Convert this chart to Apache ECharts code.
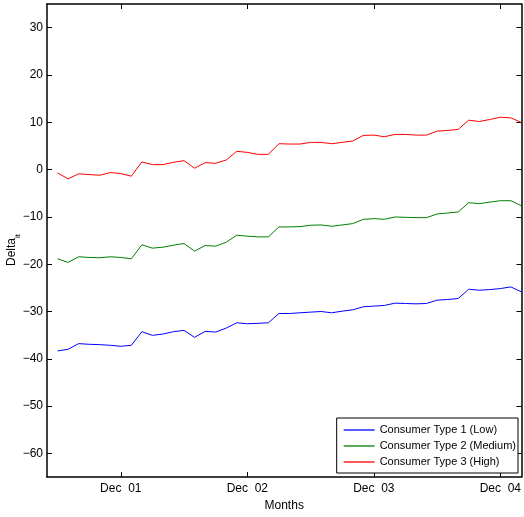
<!DOCTYPE html>
<html>
<head>
<meta charset="utf-8">
<script src="https://cdn.jsdelivr.net/npm/echarts@6/dist/echarts.min.js"></script>
<style>html,body{margin:0;padding:0;background:#fff;}#c{width:524px;height:517px;}</style>
</head>
<body>
<div id="c"></div>
<script>
const months = ['Jun 01','Jul 01','Aug 01','Sep 01','Oct 01','Nov 01','Dec 01',
  'Jan 02','Feb 02','Mar 02','Apr 02','May 02','Jun 02','Jul 02','Aug 02','Sep 02','Oct 02','Nov 02','Dec 02',
  'Jan 03','Feb 03','Mar 03','Apr 03','May 03','Jun 03','Jul 03','Aug 03','Sep 03','Oct 03','Nov 03','Dec 03',
  'Jan 04','Feb 04','Mar 04','Apr 04','May 04','Jun 04','Jul 04','Aug 04','Sep 04','Oct 04','Nov 04','Dec 04',
  'Jan 05','Feb 05'];
const seriesNames = ['Consumer Type 1 (Low)','Consumer Type 2 (Medium)','Consumer Type 3 (High)'];
const low = [-38.33,-37.98,-36.79,-36.93,-37.0,-37.14,-37.35,-37.14,-34.27,-35.04,-34.75,-34.27,-33.98,-35.46,-34.2,-34.34,-33.5,-32.38,-32.58,-32.5,-32.38,
  -30.42,-30.42,-30.27,-30.13,-30.0,-30.27,-29.93,-29.64,-29.0,-28.86,-28.72,-28.23,-28.3,-28.38,-28.3,-27.6,-27.46,-27.26,-25.29,-25.5,-25.36,-25.15,-24.8,-25.85];
const medium = [-18.85,-19.62,-18.43,-18.57,-18.64,-18.43,-18.57,-18.85,-15.91,-16.61,-16.4,-15.98,-15.63,-17.24,-16.05,-16.19,-15.35,-13.87,-14.08,-14.22,-14.22,
  -12.12,-12.12,-12.05,-11.77,-11.7,-11.98,-11.7,-11.42,-10.51,-10.37,-10.51,-10.02,-10.09,-10.16,-10.16,-9.39,-9.18,-8.97,-7.0,-7.21,-6.87,-6.58,-6.58,-7.64];
const high = [-0.7,-1.96,-0.9,-1.05,-1.2,-0.63,-0.84,-1.4,1.61,1.05,1.05,1.54,1.89,0.28,1.47,1.33,2.03,3.86,3.64,3.22,3.22,
  5.47,5.4,5.4,5.75,5.75,5.47,5.75,6.03,7.22,7.29,6.94,7.43,7.43,7.29,7.29,8.13,8.27,8.48,10.44,10.16,10.58,11.07,10.93,9.95];
const yTicks = [-60,-50,-40,-30,-20,-10,0,10,20,30];
const xTickMonths = ['Dec 01','Dec 02','Dec 03','Dec 04'];
const colors = ['#0000ff','#008000','#ff0000'];

const FONT = "'Liberation Sans',Arial,Helvetica,sans-serif";
const xTickVals = xTickMonths.map(m => months.indexOf(m));
const toPairs = arr => arr.map((v, i) => [i, v]);
const xLabel = v => { const m = months[Math.round(v)]; return m ? m.replace(' ', '  ') : ''; };
const yLabel = v => (v < 0 ? '\u2212' + Math.abs(v) : String(v));

const axisLine = {show: true, onZero: false, lineStyle: {color: '#000', width: 1.5}};
const tick = (vals) => ({show: true, inside: true, length: 5, customValues: vals, lineStyle: {color: '#000', width: 1}});

const chart = echarts.init(document.getElementById('c'), null, {renderer: 'canvas'});
chart.setOption({
  animation: false,
  backgroundColor: '#fff',
  grid: {left: 47, top: 4, right: 2, bottom: 38, containLabel: false},
  xAxis: [{
    type: 'value', min: -1, max: 44, position: 'bottom',
    axisLine: axisLine, axisTick: tick(xTickVals), splitLine: {show: false},
    axisLabel: {customValues: xTickVals, formatter: xLabel, margin: 6, color: '#000', fontSize: 12, fontFamily: FONT},
    name: 'Months', nameLocation: 'middle', nameGap: 22,
    nameTextStyle: {color: '#000', fontSize: 12, fontFamily: FONT}
  }, {
    type: 'value', min: -1, max: 44, position: 'top',
    axisLine: axisLine, axisTick: tick(xTickVals), splitLine: {show: false}, axisLabel: {show: false}
  }],
  yAxis: [{
    type: 'value', min: -65, max: 35, position: 'left',
    axisLine: axisLine, axisTick: tick(yTicks), splitLine: {show: false},
    axisLabel: {customValues: yTicks, formatter: yLabel, margin: 4, color: '#000', fontSize: 12, fontFamily: FONT}
  }, {
    type: 'value', min: -65, max: 35, position: 'right',
    axisLine: axisLine, axisTick: tick(yTicks), splitLine: {show: false}, axisLabel: {show: false}
  }],
  legend: {
    orient: 'vertical', right: 6, top: 418,
    data: seriesNames,
    icon: 'rect',
    itemWidth: 31, itemHeight: 1.3, itemGap: 2,
    padding: [5, 2, 4, 7],
    backgroundColor: '#fff', borderColor: '#000', borderWidth: 1, borderRadius: 0,
    textStyle: {color: '#000', fontSize: 11, lineHeight: 14, fontFamily: FONT}
  },
  graphic: [{
    type: 'text', x: 12, y: 250, rotation: Math.PI / 2,
    style: {
      text: '{a|Delta}{b|it}', align: 'center', verticalAlign: 'middle',
      rich: {
        a: {fontSize: 12, fontFamily: FONT, fill: '#000', lineHeight: 20, verticalAlign: 'middle'},
        b: {fontSize: 8, fontFamily: FONT, fill: '#000', verticalAlign: 'bottom'}
      }
    }
  }],
  series: [low, medium, high].map((d, i) => ({
    name: seriesNames[i], type: 'line', data: toPairs(d),
    symbol: 'none', showSymbol: false,
    lineStyle: {color: colors[i], width: 1}, itemStyle: {color: colors[i]},
    xAxisIndex: 0, yAxisIndex: 0, silent: true
  }))
});
</script>
</body>
</html>
